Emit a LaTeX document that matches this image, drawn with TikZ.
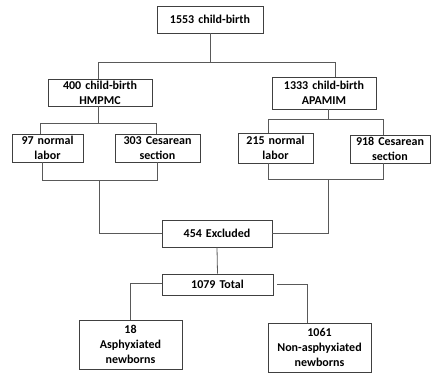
\documentclass[tikz,border=0pt]{standalone}
\usepackage{fontspec}
\setmainfont{Carlito}
\begin{document}
\begin{tikzpicture}[x=1pt,y=-1pt,
  box/.style={draw=black!75,line width=0.8pt,rectangle,inner sep=1pt,font=\bfseries\fontsize{12}{15}\selectfont,
    minimum width=#1,text width=#1-4pt,align=center},
  conn/.style={draw=black!65,line width=0.8pt}]
\useasboundingbox (0,0) rectangle (436,373);
\node[box=106pt,minimum height=27] (top) at (210,19.5) {1553 child-birth};
\node[box=104pt,minimum height=27] (hm) at (100,92.5) {400 child-birth\\HMPMC};
\node[box=104pt,minimum height=32] (ap) at (324,93) {1333 child-birth\\APAMIM};
\node[box=71pt,minimum height=28] (n97) at (47.5,148) {97 normal\\labor};
\node[box=85pt,minimum height=28] (c303) at (157.5,148) {303 Cesarean\\section};
\node[box=75pt,minimum height=30] (n215) at (275.5,148) {215 normal\\labor};
\node[box=80pt,minimum height=28] (c918) at (390,149) {918 Cesarean\\section};
\node[box=110pt,minimum height=27] (exc) at (217,233.5) {454 Excluded};
\node[box=111pt,minimum height=21] (tot) at (217.5,284.5) {1079 Total};
\node[box=103pt,minimum height=49] (a18) at (130.5,344.5) {18\\Asphyxiated\\newborns};
\node[box=103pt,minimum height=49] (n1061) at (319.5,347.5) {1061\\Non-asphyxiated\\newborns};
% top split
\coordinate (j1) at (210,62);
\coordinate (jl) at (98,62);
\coordinate (jr) at (335,62);
\draw[conn] (top.south) -- (j1);
\draw[conn] (jl) -- (jr);
\draw[conn] (jl) -- (jl |- hm.north);
\draw[conn] (jr) -- (jr |- ap.north);
% HMPMC split
\coordinate (h1) at (98,123);
\coordinate (h2) at (40,123);
\coordinate (h3) at (156,123);
\draw[conn] ([xshift=-2]hm.south) -- (h1);
\draw[conn] (h2) -- (h3);
\draw[conn] (h2) -- (h2 |- n97.north);
\draw[conn] (h3) -- (h3 |- c303.north);
% AP split
\coordinate (a1) at (328,119);
\coordinate (a2) at (268,119);
\coordinate (a3) at (383,119);
\draw[conn] ([xshift=4]ap.south) -- (a1);
\draw[conn] (a2) -- (a3);
\draw[conn] (a2) -- (a2 |- n215.north);
\draw[conn] (a3) -- (a3 |- c918.north);
% merge left
\coordinate (m1) at (42,180);
\coordinate (m2) at (157,180);
\coordinate (m3) at (99,180);
\draw[conn] (m1 |- n97.south) -- (m1) -- (m2) -- (m2 |- c303.south);
\draw[conn] (m3) |- (exc.west);
% merge right
\coordinate (r1) at (268,179);
\coordinate (r2) at (383,179);
\coordinate (r3) at (328,179);
\draw[conn] (r1 |- n215.south) -- (r1) -- (r2) -- (r2 |- c918.south);
\draw[conn] (r3) |- (exc.east);
% down
\draw[conn] (exc.south) -- (tot.north);
\draw[conn] ([yshift=1.5]tot.west) -| (a18.north);
\draw[conn] ([xshift=4]tot.east) -| ([xshift=-12.5]n1061.north);
\end{tikzpicture}
\end{document}
